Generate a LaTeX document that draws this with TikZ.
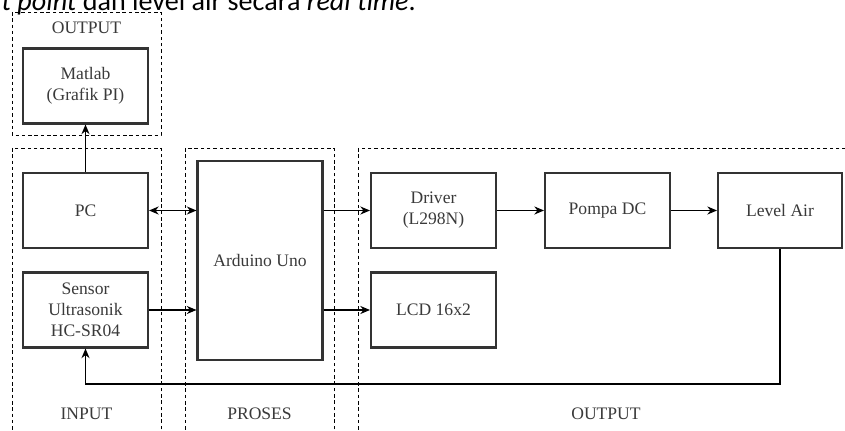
\documentclass[tikz,border=0pt]{standalone}
\usepackage{fontspec}
\setmainfont{Liberation Serif}
\newfontfamily\bodyfont{Carlito}
\usetikzlibrary{arrows.meta,positioning}
\definecolor{boxline}{HTML}{333333}
\definecolor{boxtext}{HTML}{3A3A3A}

\begin{document}
\begin{tikzpicture}[x=0.02cm,y=-0.02cm,
  block/.style={draw=boxline,line width=1.2pt,fill=white,
    minimum width=2.5cm,minimum height=1.5cm,align=center,
    font=\fontsize{10}{12}\selectfont,text=boxtext,inner sep=2pt},
  group/.style={draw=black,line width=0.5pt,dash pattern=on 2pt off 1.6pt},
  flow/.style={-{Stealth[length=5.5pt,width=4.6pt]},line width=0.6pt},
  twoway/.style={{Stealth[length=5.5pt,width=4.6pt]}-{Stealth[length=5.5pt,width=4.6pt]},
    line width=0.6pt},
  lab/.style={font=\fontsize{10}{12}\selectfont,text=boxtext}
]
\clip (0,0) rectangle (845,431);
\fill[white] (0,0) rectangle (845,431);

% cut-off line of the surrounding text
\node[anchor=base east,inner sep=0pt,font=\bodyfont\fontsize{16}{19}\selectfont]
  (caption) at (416,11) {\textit{t point} dan level air secara \textit{real time}.};

% groups
\draw[group] (12,12) rectangle (161,135);
\draw[group] (12,148) rectangle (161,445);
\draw[group] (185,148) rectangle (334,445);
\draw[group] (358,148) rectangle (852,445);
\node[lab] (outtop) at (86.5,28) {OUTPUT};
\node[lab] (inlab) at (86.5,414) {INPUT};
\node[lab] (proslab) at (259.5,414) {PROSES};
\node[lab] (outlab) at (606,414) {OUTPUT};

% blocks
\node[block] (matlab) at (85.5,86) {Matlab\\(Grafik PI)};
\node[block] (pc) at (85.5,210.5) {PC};
\node[block] (sensor) at (85.5,310) {Sensor\\Ultrasonik\\HC-SR04};
\node[block,minimum height=3.98cm] (arduino) at (260,260.5) {Arduino Uno};
\node[block] (driver) at (433.5,210.5) {Driver\\(L298N)};
\node[block] (lcd) at (433.5,310) {LCD 16x2};
\node[block] (pompa) at (607.5,210.5) {Pompa DC};
\node[block,minimum width=2.48cm] (level) at (780,210.5) {Level Air};

% connections
\draw[flow] (pc) -- (matlab);
\draw[twoway] (pc) -- (arduino.west |- pc);
\draw[flow] (sensor) -- (arduino.west |- sensor);
\draw[flow] (arduino.east |- driver) -- (driver);
\draw[flow] (arduino.east |- lcd) -- (lcd);
\draw[flow] (driver) -- (pompa);
\draw[flow] (pompa) -- (level);
\draw[flow] (level.south) -- (level.south |- 0,384) -| (sensor.south);
\end{tikzpicture}
\end{document}
